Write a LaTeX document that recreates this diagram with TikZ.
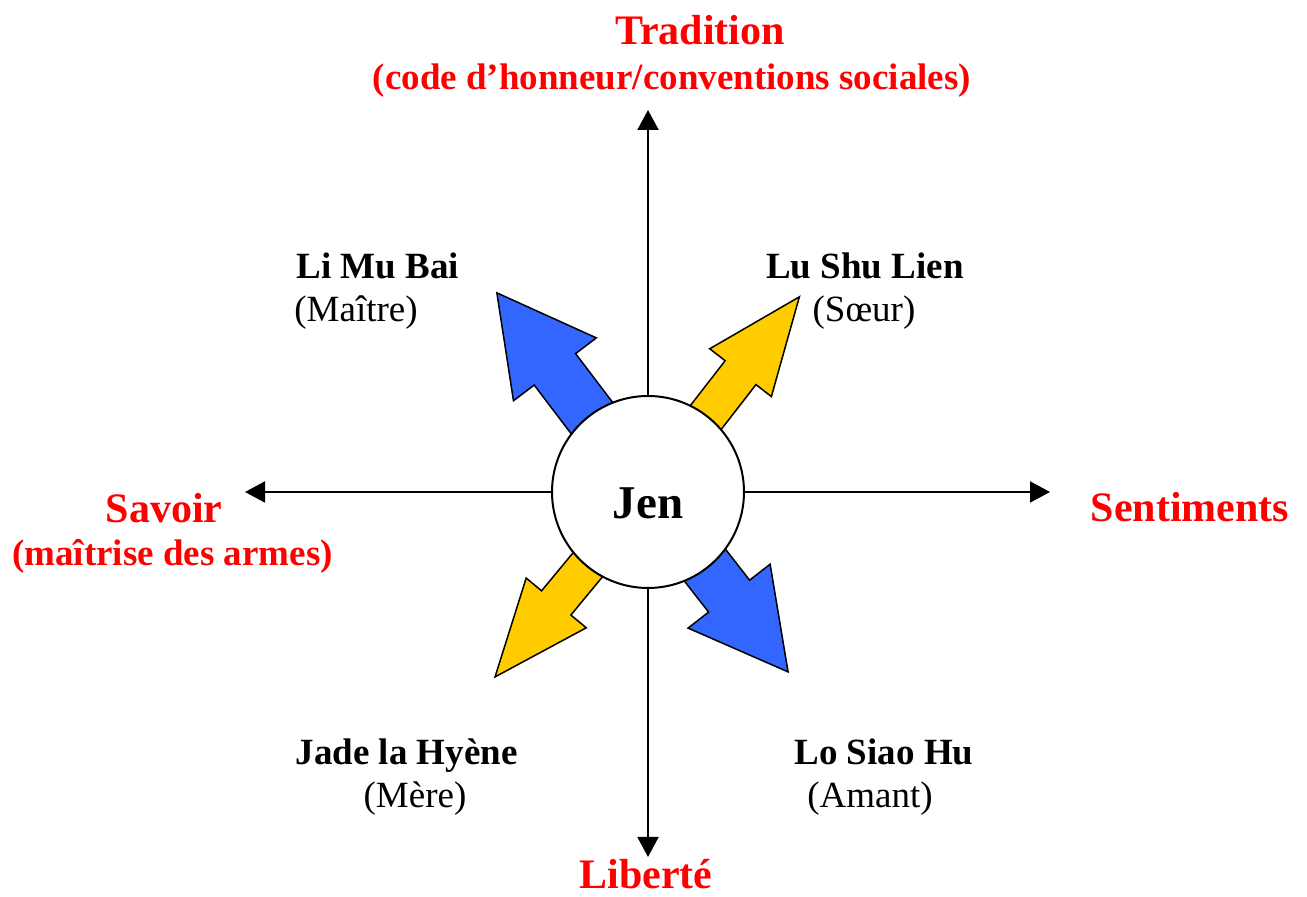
\documentclass[tikz,border=0pt]{standalone}
\usepackage{fontspec}
\setmainfont{Liberation Serif}
\usetikzlibrary{arrows.meta}
\definecolor{myblue}{HTML}{3366FF}
\definecolor{myyellow}{HTML}{FFCC00}
\definecolor{myred}{HTML}{FF0000}
\tikzset{
  axisline/.style={line width=1pt, -{Triangle[length=10pt,width=10.5pt]}},
  axislabel/.style={text=myred, font=\bfseries\fontsize{21}{24}\selectfont, inner sep=0pt, anchor=base},
  axissub/.style={text=myred, font=\bfseries\fontsize{18.5}{22}\selectfont, inner sep=0pt, anchor=base},
  persname/.style={font=\bfseries\fontsize{18.5}{22}\selectfont, inner sep=0pt, anchor=base},
  persrole/.style={font=\fontsize{18.5}{22}\selectfont, inner sep=0pt, anchor=base},
  blockarrowstyle/.style={draw=black, line width=0.75pt, line join=miter},
  jencircle/.style={circle, draw=black, line width=1pt, fill=white, minimum size=96pt, inner sep=0pt,
    font=\bfseries\fontsize{23.5}{26}\selectfont, text height=27pt, text depth=0pt},
}
% #1 centre, #2 angle, #3 tip distance, #4 head half-width, #5 shaft half-width, #6 colour
\newcommand{\jenarrow}[6]{%
  \begin{scope}[shift={(#1)}, rotate=#2]
    \fill[#6, blockarrowstyle] (0,-#5) -- (#3-96,-#5) -- (#3-96,-#4) -- (#3,0)
      -- (#3-96,#4) -- (#3-96,#5) -- (0,#5) -- cycle;
  \end{scope}}
\begin{document}
\begin{tikzpicture}[x=0.5pt,y=0.5pt]
\useasboundingbox (0,0) rectangle (1307,897);
\coordinate (c) at (648,405);
\coordinate (top) at (648,787);
\coordinate (bot) at (648,40);
\coordinate (lft) at (245,405);
\coordinate (rgt) at (1050,405);
% axes
\draw[axisline] (c) -- (top);
\draw[axisline] (c) -- (bot);
\draw[axisline] (c) -- (lft);
\draw[axisline] (c) -- (rgt);
% block arrows
\jenarrow{c}{127.2}{250}{52}{26}{myblue}
\jenarrow{c}{52.2}{247}{39}{19.5}{myyellow}
\jenarrow{c}{230.4}{240}{39}{19}{myyellow}
\jenarrow{c}{-52.1}{228}{52}{26}{myblue}
% centre
\node[jencircle] (jen) at (c) {Jen};
% axis labels
\node[axislabel] (trad) at (700,852) {Tradition};
\node[axissub] (tradsub) at (672,807) {(code d’honneur/conventions sociales)};
\node[axislabel] (savoir) at (164,374) {Savoir};
\node[axissub] (savoirsub) at (172.5,331) {(maîtrise des armes)};
\node[axislabel] (sent) at (1190,375) {Sentiments};
\node[axislabel] (lib) at (646,8) {Liberté};
% persons
\node[persname, anchor=base west] (li) at (296,618) {Li Mu Bai};
\node[persrole, anchor=base west] (lirole) at (294,575) {(Maître)};
\node[persname] (lu) at (865,618) {Lu Shu Lien};
\node[persrole] (lurole) at (864,575) {(Sœur)};
\node[persname] (jade) at (406.5,132) {Jade la Hyène};
\node[persrole] (jaderole) at (415,89) {(Mère)};
\node[persname] (lo) at (884,132) {Lo Siao Hu};
\node[persrole] (lorole) at (870,89) {(Amant)};
\end{tikzpicture}
\end{document}
